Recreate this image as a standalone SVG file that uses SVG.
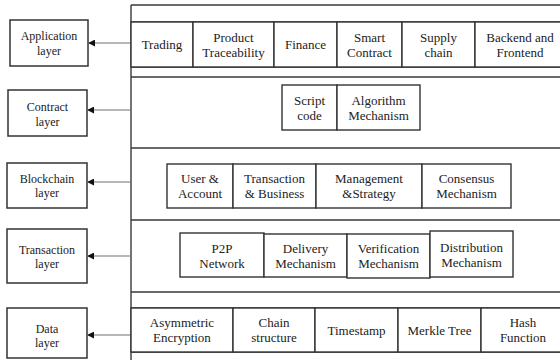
<svg xmlns="http://www.w3.org/2000/svg" width="560" height="360" viewBox="0 0 560 360">
<defs>
<style>
.bg{fill:#fff}
.frame{fill:none;stroke:#3a3a3a;stroke-width:1.4}
.box{fill:#fff;stroke:#333;stroke-width:1.4}
.lbox{fill:#fff;stroke:#333;stroke-width:1.5}
.t{font-family:'Liberation Serif',Tinos,'Noto Serif',FreeSerif,'DejaVu Serif','Times New Roman',Times,serif;font-size:13px;fill:#222;text-anchor:middle}
.lt{font-family:'Liberation Serif',Tinos,'Noto Serif',FreeSerif,'DejaVu Serif','Times New Roman',Times,serif;font-size:12px;fill:#222;text-anchor:middle}
.conn{stroke:#707070;stroke-width:1.1;fill:none}
</style>
<marker id="ah" viewBox="0 0 8 8" refX="7" refY="4" markerWidth="7" markerHeight="7" orient="auto" markerUnits="userSpaceOnUse">
<path d="M0,0 L8,4 L0,8 Z" fill="#111"/>
</marker>
</defs>
<rect class="bg" x="0" y="0" width="560" height="360"/>

<g id="frame">
<path class="frame" d="M131,5 V360 M131,5 H560 M131,22 H560 M131,67 H560 M131,77 H560 M131,148 H560 M131,220 H560 M131,292 H560 M131,308 H560 M131,352 H560"/>
</g>

<g id="connectors">
<line class="conn" x1="131" y1="43" x2="89" y2="43" marker-end="url(#ah)"/>
<line class="conn" x1="131" y1="110" x2="88" y2="110" marker-end="url(#ah)"/>
<line class="conn" x1="131" y1="182" x2="88" y2="182" marker-end="url(#ah)"/>
<line class="conn" x1="131" y1="256" x2="88" y2="256" marker-end="url(#ah)"/>
<line class="conn" x1="131" y1="335" x2="88" y2="335" marker-end="url(#ah)"/>
</g>

<g id="application-layer"><rect class="lbox" x="10" y="20" width="78" height="46"/><text class="lt" x="49" y="40">Application</text><text class="lt" x="49" y="55">layer</text></g>
<g id="contract-layer"><rect class="lbox" x="8" y="90" width="79" height="46"/><text class="lt" x="47.5" y="111">Contract</text><text class="lt" x="47.5" y="126">layer</text></g>
<g id="blockchain-layer"><rect class="lbox" x="7" y="163" width="80" height="45"/><text class="lt" x="47" y="183">Blockchain</text><text class="lt" x="47" y="197">layer</text></g>
<g id="transaction-layer"><rect class="lbox" x="7" y="229" width="80" height="54"/><text class="lt" x="47" y="254">Transaction</text><text class="lt" x="47" y="268">layer</text></g>
<g id="data-layer"><rect class="lbox" x="7" y="308" width="80" height="50"/><text class="lt" x="47" y="333">Data</text><text class="lt" x="47" y="347">layer</text></g>

<g id="trading"><rect class="box" x="131" y="22" width="62" height="45"/><text class="t" x="162" y="49">Trading</text></g>
<g id="product-traceability"><rect class="box" x="193" y="22" width="81" height="45"/><text class="t" x="233.5" y="41.5">Product</text><text class="t" x="233.5" y="56.5">Traceability</text></g>
<g id="finance"><rect class="box" x="274" y="22" width="63" height="45"/><text class="t" x="305.5" y="49">Finance</text></g>
<g id="smart-contract"><rect class="box" x="337" y="22" width="65" height="45"/><text class="t" x="369.5" y="41.5">Smart</text><text class="t" x="369.5" y="56.5">Contract</text></g>
<g id="supply-chain"><rect class="box" x="402" y="22" width="73" height="45"/><text class="t" x="438.5" y="41.5">Supply</text><text class="t" x="438.5" y="56.5">chain</text></g>
<g id="backend-frontend"><rect class="box" x="475" y="22" width="92" height="45"/><text class="t" x="520" y="41.5">Backend and</text><text class="t" x="520" y="56.5">Frontend</text></g>

<g id="script-code"><rect class="box" x="282" y="85" width="55" height="45"/><text class="t" x="309.5" y="104.5">Script</text><text class="t" x="309.5" y="119.5">code</text></g>
<g id="algorithm-mechanism"><rect class="box" x="337" y="85" width="83" height="45"/><text class="t" x="378.5" y="104.5">Algorithm</text><text class="t" x="378.5" y="119.5">Mechanism</text></g>

<g id="user-account"><rect class="box" x="167" y="164" width="66" height="44"/><text class="t" x="200" y="183">User &amp;</text><text class="t" x="200" y="198">Account</text></g>
<g id="transaction-business"><rect class="box" x="233" y="164" width="83" height="44"/><text class="t" x="274.5" y="183">Transaction</text><text class="t" x="274.5" y="198">&amp; Business</text></g>
<g id="management-strategy"><rect class="box" x="316" y="164" width="106" height="44"/><text class="t" x="369" y="183">Management</text><text class="t" x="369" y="198">&amp;Strategy</text></g>
<g id="consensus-mechanism"><rect class="box" x="422" y="164" width="89" height="44"/><text class="t" x="466.5" y="183">Consensus</text><text class="t" x="466.5" y="198">Mechanism</text></g>

<g id="p2p-network"><rect class="box" x="180" y="233" width="84" height="44"/><text class="t" x="222" y="253">P2P</text><text class="t" x="222" y="268">Network</text></g>
<g id="delivery-mechanism"><rect class="box" x="264" y="234" width="83" height="43"/><text class="t" x="305.5" y="253">Delivery</text><text class="t" x="305.5" y="268">Mechanism</text></g>
<g id="verification-mechanism"><rect class="box" x="347" y="234" width="83" height="44"/><text class="t" x="388.5" y="253">Verification</text><text class="t" x="388.5" y="268">Mechanism</text></g>
<g id="distribution-mechanism"><rect class="box" x="430" y="231" width="83" height="46"/><text class="t" x="471.5" y="252">Distribution</text><text class="t" x="471.5" y="267">Mechanism</text></g>

<g id="asymmetric-encryption"><rect class="box" x="131" y="308" width="102" height="44"/><text class="t" x="182" y="327">Asymmetric</text><text class="t" x="182" y="342">Encryption</text></g>
<g id="chain-structure"><rect class="box" x="233" y="308" width="82" height="44"/><text class="t" x="274" y="327">Chain</text><text class="t" x="274" y="342">structure</text></g>
<g id="timestamp"><rect class="box" x="315" y="308" width="83" height="44"/><text class="t" x="356.5" y="334.5">Timestamp</text></g>
<g id="merkle-tree"><rect class="box" x="398" y="308" width="83" height="44"/><text class="t" x="439.5" y="334.5">Merkle Tree</text></g>
<g id="hash-function"><rect class="box" x="481" y="308" width="86" height="44"/><text class="t" x="523" y="327">Hash</text><text class="t" x="523" y="342">Function</text></g>
</svg>
